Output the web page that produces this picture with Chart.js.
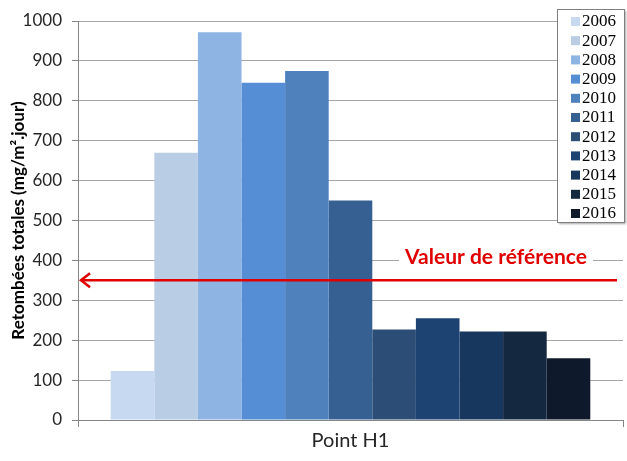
<!DOCTYPE html>
<html>
<head>
<meta charset="utf-8">
<script src="https://cdn.jsdelivr.net/npm/chart.js@4"></script>
<style>
  html, body { margin: 0; padding: 0; background: #fff; }
  #wrap { width: 627px; height: 461px; position: relative; }
</style>
</head>
<body>
<div id="wrap"><canvas id="chart"></canvas></div>
<script>
// ---- data ----
const categories = ["Point H1"];
const years = ["2006", "2007", "2008", "2009", "2010", "2011", "2012", "2013", "2014", "2015", "2016"];
const values = [123, 670, 972, 845, 875, 550, 227, 255, 222, 222, 155];
const yearColors = ["#C6D9F1", "#B9CDE5", "#8EB4E3", "#558ED5", "#4F81BD", "#376092",
                    "#2C4D75", "#1C4372", "#17375E", "#142840", "#0E1A2B"];
const referenceValue = 350;
const referenceLabel = "Valeur de référence";
const yTitle = "Retombées totales (mg/m².jour)";

const GRID = "#a6a6a6";
const AXIS = "#868686";

// reference line with left arrow + label
const referencePlugin = {
  id: "reference",
  afterDatasetsDraw(chart) {
    const ctx = chart.ctx, area = chart.chartArea;
    const y = chart.scales.y.getPixelForValue(referenceValue);
    ctx.save();
    ctx.strokeStyle = "#E00000";
    ctx.lineWidth = 2.5;
    ctx.beginPath();
    ctx.moveTo(area.left + 3, y);
    ctx.lineTo(area.right - 6, y);
    ctx.stroke();
    ctx.beginPath();
    ctx.moveTo(area.left + 12, y - 7);
    ctx.lineTo(area.left + 3, y);
    ctx.lineTo(area.left + 12, y + 7);
    ctx.stroke();

    ctx.font = "bold 21px Lato";
    ctx.textAlign = "center";
    ctx.textBaseline = "middle";
    const tx = 496, ty = y - 23;
    const w = ctx.measureText(referenceLabel).width;
    ctx.fillStyle = "#fff";
    ctx.fillRect(tx - w / 2 - 6, ty - 12, w + 12, 24);
    ctx.fillStyle = "#E00000";
    ctx.fillText(referenceLabel, tx, ty);
    ctx.restore();
  }
};

// boxed legend overlapping the top right of the plot
const boxLegendPlugin = {
  id: "boxLegend",
  afterDraw(chart) {
    const ctx = chart.ctx;
    const x0 = 557, y0 = 9, w = 67, h = 213;
    ctx.save();
    ctx.shadowColor = "rgba(0,0,0,0.35)";
    ctx.shadowOffsetX = 2;
    ctx.shadowOffsetY = 2;
    ctx.shadowBlur = 2;
    ctx.fillStyle = "#fff";
    ctx.fillRect(x0, y0, w, h);
    ctx.shadowColor = "transparent";
    ctx.strokeStyle = "#7f7f7f";
    ctx.lineWidth = 1;
    ctx.strokeRect(x0 + 0.5, y0 + 0.5, w, h);
    ctx.font = "17px 'Liberation Serif'";
    ctx.textBaseline = "middle";
    ctx.textAlign = "left";
    chart.data.datasets.forEach((ds, i) => {
      const cy = 21 + i * 19.2;
      ctx.fillStyle = ds.backgroundColor;
      ctx.fillRect(x0 + 14, cy - 4, 9, 9);
      ctx.fillStyle = "#000";
      ctx.fillText(ds.label, x0 + 25, cy + 1);
    });
    ctx.restore();
  }
};

const datasets = years.map((yr, i) => ({
  label: yr,
  data: [values[i]],
  backgroundColor: yearColors[i],
  borderWidth: 0,
  categoryPercentage: 0.88,
  barPercentage: 1.0
}));

new Chart(document.getElementById("chart"), {
  type: "bar",
  data: { labels: categories, datasets },
  options: {
    responsive: true,
    maintainAspectRatio: false,
    animation: false,
    layout: { padding: { left: 8, right: 4, top: 21, bottom: 0 } },
    plugins: { legend: { display: false }, tooltip: { enabled: false } },
    scales: {
      x: {
        grid: { drawOnChartArea: false, color: AXIS, tickColor: AXIS, tickLength: 7 },
        border: { color: AXIS },
        ticks: { color: "#262626", font: { family: "Lato", size: 20 }, padding: 2 },
        afterFit(scale) { scale.height = 41; }
      },
      y: {
        min: 0,
        max: 1000,
        ticks: {
          stepSize: 50,
          color: "#262626",
          font: { family: "Lato", size: 17 },
          padding: 10,
          callback: v => (v % 100 === 0 ? v : "")
        },
        grid: {
          color: c => (c.tick && c.tick.value % 100 === 0 ? GRID : "rgba(0,0,0,0)"),
          tickColor: AXIS,
          tickLength: 6
        },
        border: { color: AXIS },
        title: {
          display: true,
          text: yTitle,
          color: "#000",
          font: { family: "Lato", size: 17, weight: "bold" },
          padding: { top: 0, bottom: 2 }
        },
        afterFit(scale) { scale.width = 70; }
      }
    }
  },
  plugins: [referencePlugin, boxLegendPlugin]
});
</script>
</body>
</html>
